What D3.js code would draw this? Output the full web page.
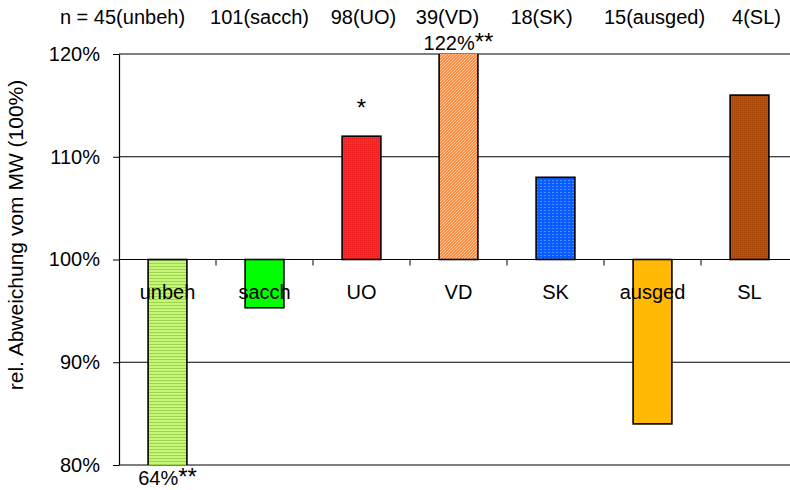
<!DOCTYPE html>
<html>
<head>
<meta charset="utf-8">
<script src="https://cdn.jsdelivr.net/npm/d3@7/dist/d3.min.js"></script>
<style>
  html, body { margin: 0; padding: 0; background: #fff; }
  svg text { font-family: "Liberation Sans", Arial, sans-serif; fill: #000; }
</style>
</head>
<body>
<svg id="chart" width="790" height="490"></svg>
<script>
// ---- data ----
const categories = ["unbeh", "sacch", "UO", "VD", "SK", "ausged", "SL"];
const values = [64, 95.3, 112, 122, 108, 84, 116];
const nCounts = [45, 101, 98, 39, 18, 15, 4];
const annotations = ["64%**", "", "*", "122%**", "", "", ""];
const yTicks = [80, 90, 100, 110, 120];
const baseline = 100;

// ---- layout ----
const svg = d3.select("#chart");
const pLeft = 119, pRight = 798, pTop = 54, pBottom = 465;
const fs = 20;

const x = d3.scaleBand().domain(categories).range([pLeft, pRight]).paddingInner(0.6).paddingOuter(0.3);
const xc = d3.scaleBand().domain(categories).range([pLeft, pRight]);
const y = d3.scaleLinear().domain([80, 120]).range([pBottom, pTop]);

// patterns
const defs = svg.append("defs");
function pat(id, w, h, bg, draw) {
  const p = defs.append("pattern").attr("id", id).attr("patternUnits", "userSpaceOnUse")
    .attr("width", w).attr("height", h);
  p.append("rect").attr("width", w).attr("height", h).attr("fill", bg);
  draw(p);
}
pat("p0", 4, 3, "#c6f57a", p => {
  p.append("rect").attr("x", 0).attr("y", 2).attr("width", 4).attr("height", 1).attr("fill", "#9bd64a");
});
pat("p2", 2, 2, "#ff2a2a", p => {
  p.append("rect").attr("x", 0).attr("y", 0).attr("width", 1).attr("height", 1).attr("fill", "#e81818");
});
pat("p3", 3, 3, "#ff8a40", p => {
  p.append("path").attr("d", "M0,3 L3,0 M-1,1 L1,-1 M2,4 L4,2").attr("stroke", "#ffd6b0").attr("stroke-width", 0.9);
});
pat("p4", 4, 3, "#0a5cff", p => {
  p.append("rect").attr("x", 0).attr("y", 0).attr("width", 2).attr("height", 1).attr("fill", "#4a90ff");
});
pat("p5", 2, 2, "#ffc000", p => {
  p.append("rect").attr("x", 0).attr("y", 0).attr("width", 1).attr("height", 1).attr("fill", "#ffb400");
});
pat("p6", 2, 2, "#bc5008", p => {
  p.append("rect").attr("x", 0).attr("y", 0).attr("width", 1).attr("height", 1).attr("fill", "#a44204");
});
const fills = ["url(#p0)", "#00ff00", "url(#p2)", "url(#p3)", "url(#p4)", "url(#p5)", "url(#p6)"];

defs.append("clipPath").attr("id", "plotclip").append("rect")
  .attr("x", pLeft - 5).attr("y", pTop).attr("width", pRight - pLeft + 10).attr("height", pBottom - pTop);

// gridlines
svg.append("g").selectAll("line").data(yTicks.filter(t => t !== baseline)).join("line")
  .attr("x1", pLeft).attr("x2", pRight)
  .attr("y1", d => y(d)).attr("y2", d => y(d))
  .attr("stroke", "#000").attr("stroke-width", 1);

// bars
svg.append("g").attr("clip-path", "url(#plotclip)")
  .selectAll("rect").data(categories).join("rect")
  .attr("x", d => x(d))
  .attr("width", x.bandwidth())
  .attr("y", (d, i) => y(Math.max(values[i], baseline)))
  .attr("height", (d, i) => Math.abs(y(values[i]) - y(baseline)))
  .attr("fill", (d, i) => fills[i])
  .attr("stroke", "#000").attr("stroke-width", 1.6);

// y axis
const yAxis = d3.axisLeft(y).tickValues(yTicks).tickSize(6).tickSizeOuter(0).tickFormat(d => d + "%").tickPadding(13);
const yg = svg.append("g").attr("transform", `translate(${pLeft},0)`).call(yAxis);
yg.select(".domain").attr("stroke", "#000").attr("stroke-width", 1.2);
yg.selectAll(".tick line").attr("stroke", "#000");
yg.selectAll("text").attr("font-size", fs).attr("font-family", "Liberation Sans, Arial, sans-serif").attr("fill", "#000");

// category axis at baseline
svg.append("line").attr("x1", pLeft).attr("x2", pRight).attr("y1", y(baseline)).attr("y2", y(baseline))
  .attr("stroke", "#000").attr("stroke-width", 1.2);
svg.append("g").selectAll("line").data(categories).join("line")
  .attr("x1", d => xc(d) + xc.bandwidth()).attr("x2", d => xc(d) + xc.bandwidth())
  .attr("y1", y(baseline)).attr("y2", y(baseline) + 6)
  .attr("stroke", "#000");
svg.append("g").selectAll("text").data(categories).join("text")
  .attr("x", d => xc(d) + xc.bandwidth() / 2)
  .attr("y", y(baseline) + 39)
  .attr("text-anchor", "middle").attr("font-size", fs)
  .text(d => d);

// annotations (asterisks slightly larger)
const ann = svg.append("g").selectAll("text").data(categories).join("text")
  .attr("x", d => xc(d) + xc.bandwidth() / 2)
  .attr("y", (d, i) => {
    const v = values[i];
    if (v < 80) return pBottom + 20;
    if (v > 120) return pTop - 4;
    return y(v) - 20;
  })
  .attr("text-anchor", "middle").attr("font-size", fs);
ann.each(function(d, i) {
  const s = annotations[i];
  const m = s.match(/^([^*]*)(\**)$/);
  const t = d3.select(this);
  if (m[1]) t.append("tspan").text(m[1]);
  if (m[2]) t.append("tspan").attr("font-size", 24).text(m[2]);
});

// top n labels
const nOffsets = [-45, -5, 2, -11, -14, 2, 7];
svg.append("g").selectAll("text").data(categories).join("text")
  .attr("x", (d, i) => xc(d) + xc.bandwidth() / 2 + nOffsets[i])
  .attr("y", 24)
  .attr("text-anchor", "middle").attr("font-size", fs)
  .text((d, i) => (i === 0 ? "n = " : "") + nCounts[i] + "(" + d + ")");

// y label
svg.append("text")
  .attr("transform", `translate(23,235) rotate(-90)`)
  .attr("text-anchor", "middle").attr("font-size", 21)
  .text("rel. Abweichung vom MW (100%)");
</script>
</body>
</html>
